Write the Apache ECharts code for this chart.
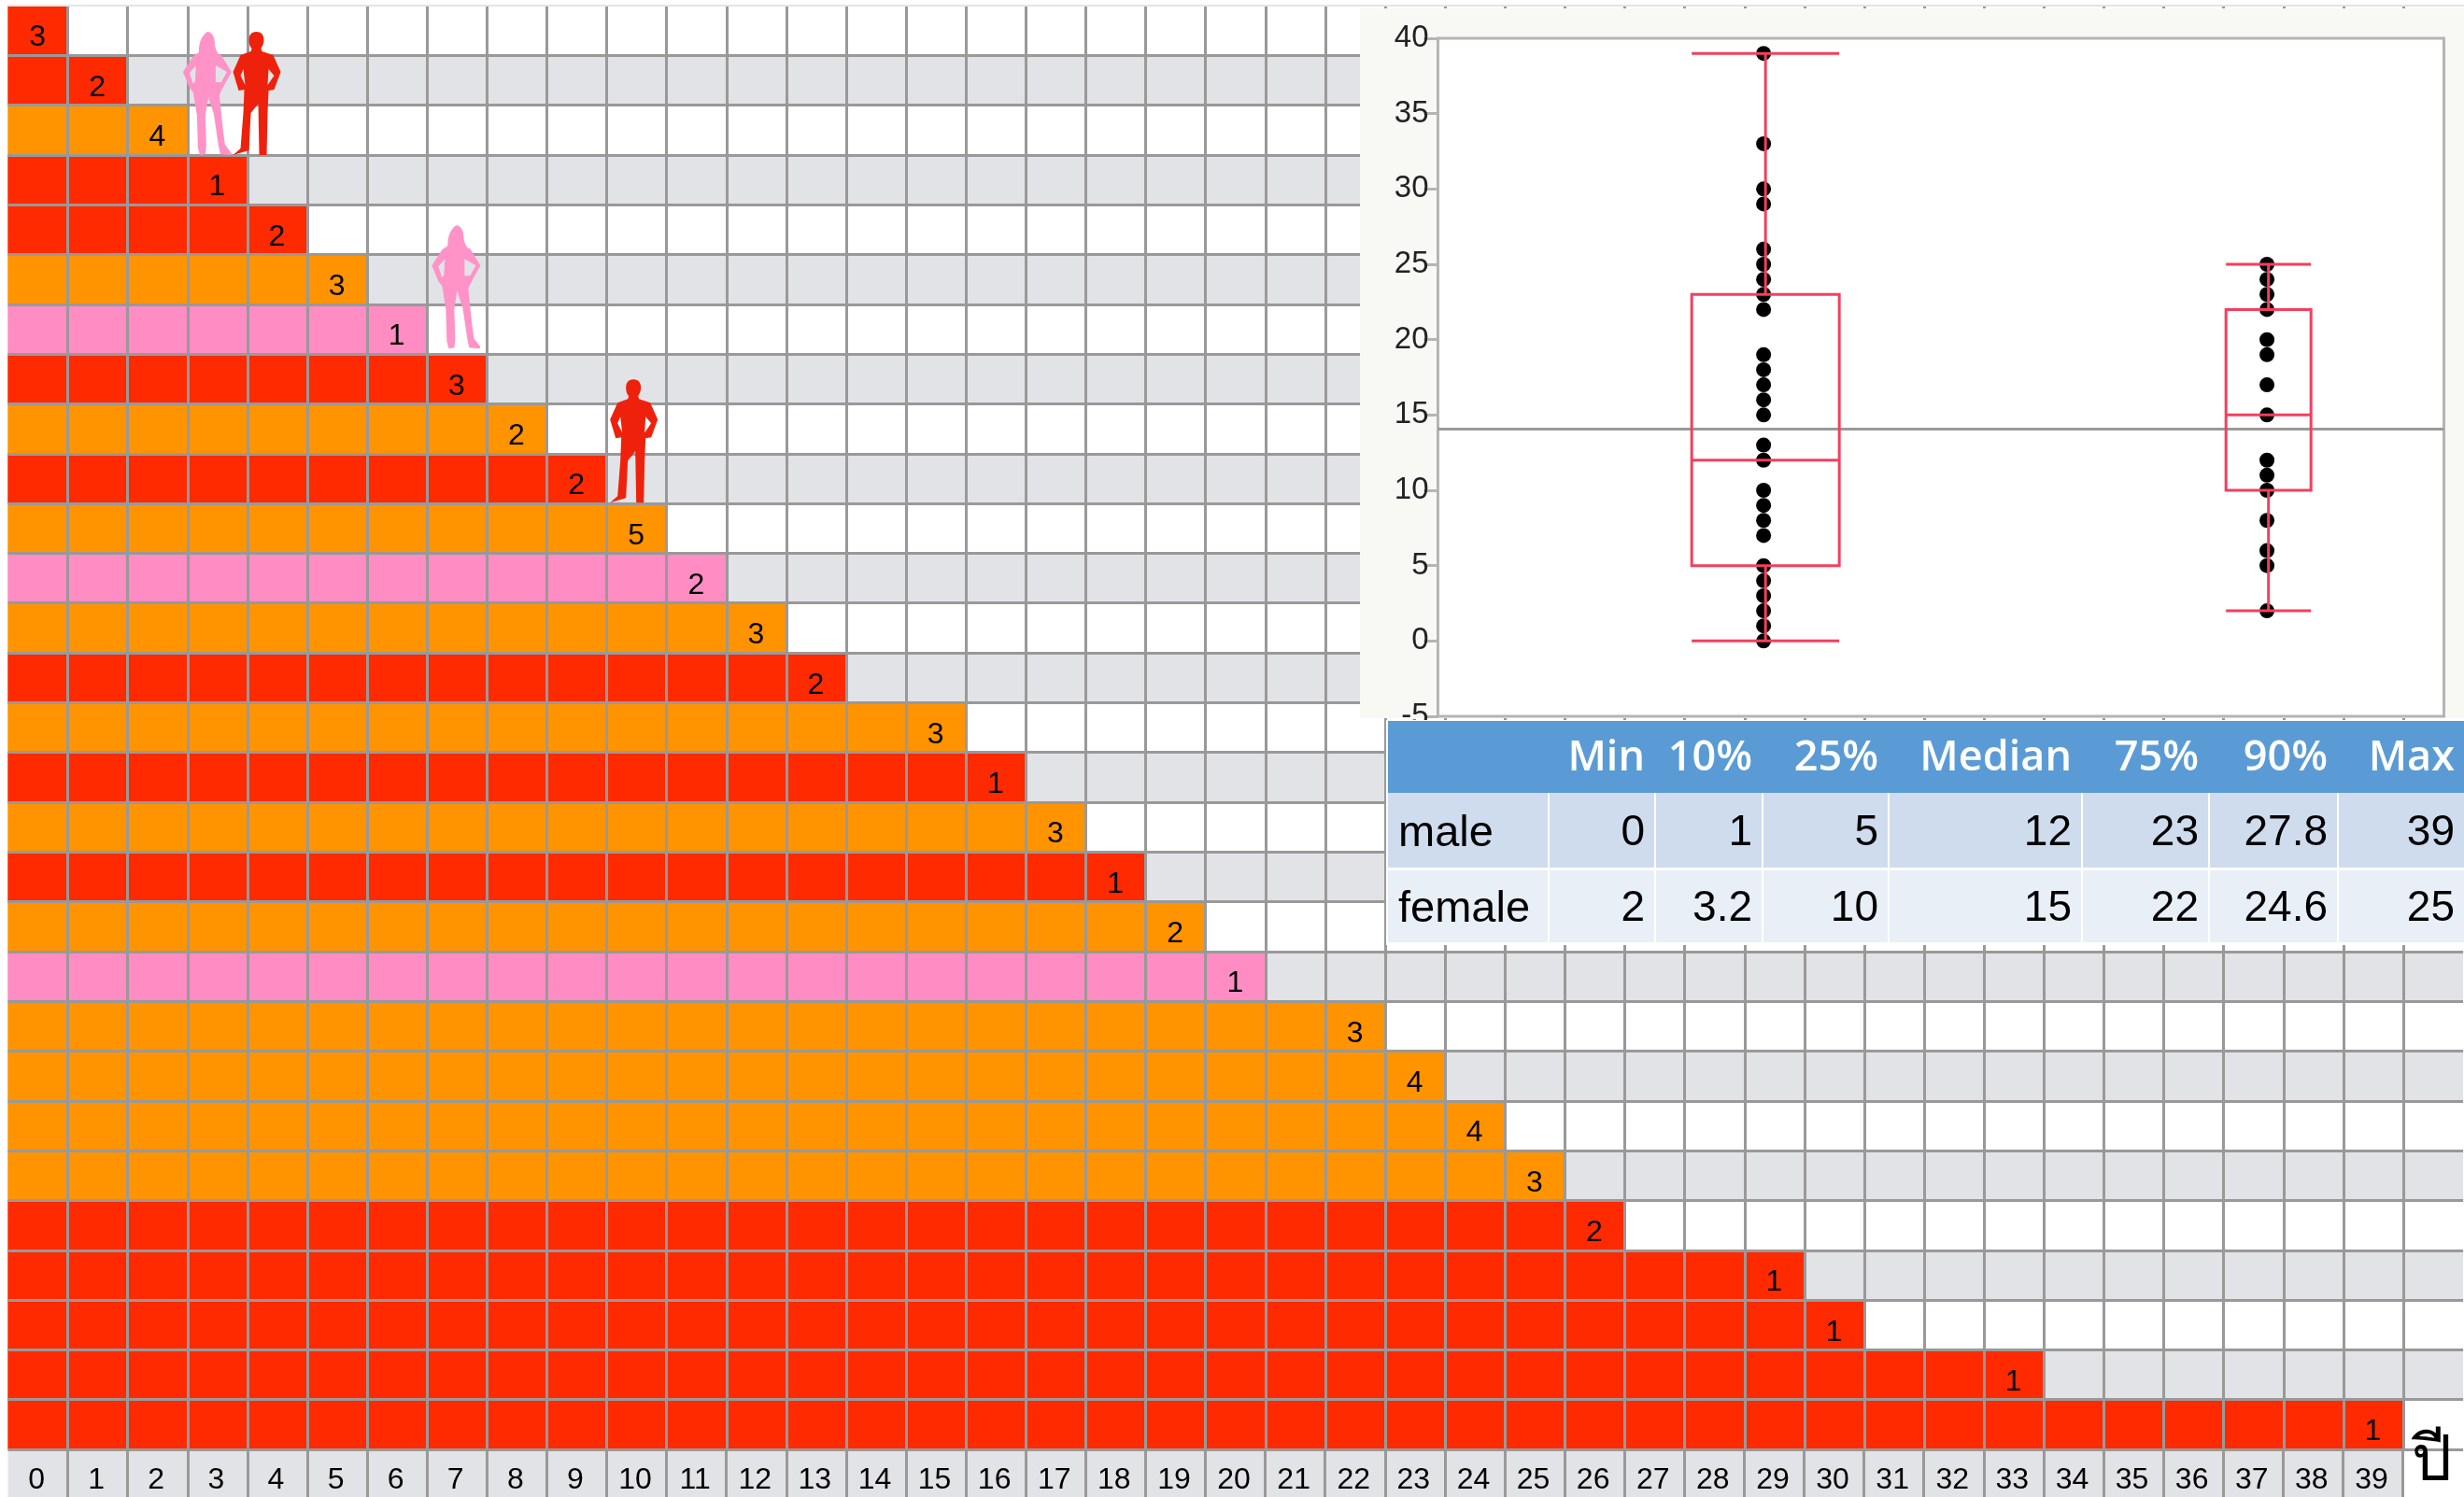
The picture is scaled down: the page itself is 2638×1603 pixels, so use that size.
<!DOCTYPE html>
<html>
<head>
<meta charset="utf-8">
<title>chart</title>
<script src="https://cdn.jsdelivr.net/npm/echarts@6/dist/echarts.min.js"></script>
<style>
    html, body { margin: 0; padding: 0; background: #fff; }
    #main { width: 2638px; height: 1603px; }
</style>
</head>
<body>
<div id="main"></div>
<script>
// ages across the bottom strip
var ages = [];
for (var a = 0; a < 40; a++) ages.push(String(a));
var gridColumns = ages.concat(['']);

// one row per distinct age, oldest at the bottom
var rowAges = [0, 1, 2, 3, 4, 5, 6, 7, 8, 9, 10, 11, 12, 13, 15, 16, 17, 18, 19, 20, 22, 23, 24, 25, 26, 29, 30, 33, 39];
var rowCounts = [3, 2, 4, 1, 2, 3, 1, 3, 2, 2, 5, 2, 3, 2, 3, 1, 3, 1, 2, 1, 3, 4, 4, 3, 2, 1, 1, 1, 1];
var rowGroups = ['m', 'm', 'b', 'm', 'm', 'b', 'f', 'm', 'b', 'm', 'b', 'f', 'b', 'm', 'b', 'm', 'b', 'm', 'b', 'f', 'b', 'b', 'b', 'b', 'm', 'm', 'm', 'm', 'm'];

// box plot dots
var maleAges = [39, 33, 30, 29, 26, 25, 24, 23, 22, 19, 18, 17, 16, 15, 13, 12, 10, 9, 8, 7, 5, 4, 3, 2, 1, 0];
var femaleAges = [25, 24, 23, 22, 20, 19, 17, 15, 12, 11, 10, 8, 6, 5, 2];
var meanAge = 14.06;

// summary table
var statNames = ['Min', '10%', '25%', 'Median', '75%', '90%', 'Max'];
var maleStats = [0, 1, 5, 12, 23, 27.8, 39];
var femaleStats = [2, 3.2, 10, 15, 22, 24.6, 25];

var RED = '#FF2A00', ORANGE = '#FF9400', PINK = '#FF8DC4';
var LINE = '#999999', ROW_GRAY = '#E2E3E7', AXIS_GRAY = '#B5B5B5', BOX_RED = '#F43F5E';
var FONT = '"Liberation Sans", Arial, sans-serif';

var WOMAN = 'path://M26 0C31 0 34 6 34 12C34 17 36 21 38 24L41 25L52 43L41 63L39 68L43 106L45 121L52 130L51 132L40 131L38 122L33 88L27 70L24 90L25 122L24 131L18 132L16 124L15 90L11 65L7 60L0 43L11 26L17 22C17 18 17 6 26 0Z' +
    'M35 36L35 54L41 54L47 43ZM14 36L7 44L11 56L13 53Z';
var MAN = 'path://M25 0C31 0 33 4 33 9C33 13 31 16 30 18L31 21L43 25L51 43L44 62L38 63L37 87L36 132L28 132L27 77L19 87L17 127L0 132L8 125L11 87L12 62L6 63L0 43L8 25L19 21L20 18C18 16 17 13 17 9C17 4 19 0 25 0Z' +
    'M38 40L37 57L44 47ZM11 40L8 47L13 57Z';

function cellsFor(group) {
    var cells = [];
    for (var r = 0; r < rowAges.length; r++) {
        if (rowGroups[r] !== group) continue;
        for (var c = 0; c <= rowAges[r]; c++) {
            cells.push([c, r, c === rowAges[r] ? rowCounts[r] : 0]);
        }
    }
    return cells;
}

function heatSeries(group, color) {
    return {
        type: 'heatmap',
        xAxisIndex: 0,
        yAxisIndex: 0,
        data: cellsFor(group),
        itemStyle: { color: color },
        label: {
            show: true,
            color: '#000',
            fontFamily: FONT,
            fontSize: 32,
            offset: [-0.5, 8],
            formatter: function(p) {
                return p.value[2] ? String(p.value[2]) : '';
            }
        },
        emphasis: { disabled: true }
    };
}

function person(symbol, color, col, row, size, offset) {
    return {
        type: 'scatter',
        xAxisIndex: 0,
        yAxisIndex: 0,
        z: 4,
        data: [[col, row]],
        symbol: symbol,
        symbolSize: size,
        symbolOffset: offset,
        itemStyle: { color: color, opacity: 1 },
        silent: true
    };
}

function dots(list, x) {
    return {
        type: 'scatter',
        xAxisIndex: 2,
        yAxisIndex: 3,
        z: 8,
        data: list.map(function(v) { return [x, v]; }),
        symbol: 'circle',
        symbolSize: 16,
        itemStyle: { color: '#000', opacity: 1 }
    };
}

function renderBox(params, api) {
    var c = api.value(0);
    var half = api.value(6) / 2;
    var left = api.coord([c - half, 0])[0];
    var right = api.coord([c + half, 0])[0];
    var mid = api.coord([c, 0])[0];
    var lo = api.coord([c, api.value(1)])[1];
    var q1 = api.coord([c, api.value(2)])[1];
    var med = api.coord([c, api.value(3)])[1];
    var q3 = api.coord([c, api.value(4)])[1];
    var hi = api.coord([c, api.value(5)])[1];
    var st = { stroke: BOX_RED, lineWidth: 3, fill: 'none' };
    function seg(x1, y1, x2, y2) {
        return { type: 'line', shape: { x1: x1, y1: y1, x2: x2, y2: y2 }, style: st };
    }
    return {
        type: 'group',
        children: [
            { type: 'rect', shape: { x: left, y: q3, width: right - left, height: q1 - q3 }, style: st },
            seg(left, med, right, med),
            seg(mid, q3, mid, hi),
            seg(mid, q1, mid, lo),
            seg(left, hi, right, hi),
            seg(left, lo, right, lo)
        ]
    };
}

// table graphics, built from the stat arrays
function tableGraphics() {
    var edges = [1486, 1659, 1773, 1888, 2023, 2230, 2366, 2504, 2640];
    var rows = [
        { name: 'male', stats: maleStats, fill: '#CFDCEE', top: 849, bottom: 929 },
        { name: 'female', stats: femaleStats, fill: '#E9EFF7', top: 932, bottom: 1009 }
    ];
    var els = [
        { type: 'rect', z: 5, shape: { x: 1456, y: 9, width: 1182, height: 760 }, style: { fill: '#F8F9F5' } },
        { type: 'rect', z: 9, shape: { x: 1484, y: 771, width: 1154, height: 241 }, style: { fill: '#fff' } },
        { type: 'rect', z: 10, shape: { x: 1486, y: 772, width: 1152, height: 77 }, style: { fill: '#5B9BD5' } }
    ];
    statNames.forEach(function(name, i) {
        els.push({
            type: 'text', z: 11,
            style: { text: name, x: edges[i + 2] - 12, y: 812, align: 'right', verticalAlign: 'middle', fill: '#fff', font: '600 45px "Open Sans", sans-serif' }
        });
    });
    rows.forEach(function(row) {
        for (var i = 0; i < edges.length - 1; i++) {
            var w = edges[i + 1] - edges[i] - (i < edges.length - 2 ? 2 : 0);
            els.push({ type: 'rect', z: 10, shape: { x: edges[i], y: row.top, width: w, height: row.bottom - row.top }, style: { fill: row.fill } });
        }
        var cy = (row.top + row.bottom) / 2;
        els.push({
            type: 'text', z: 11,
            style: { text: row.name, x: 1497, y: cy + 4, align: 'left', verticalAlign: 'middle', fill: '#000', font: '47px ' + FONT }
        });
        row.stats.forEach(function(v, i) {
            els.push({
                type: 'text', z: 11,
                style: { text: String(v), x: edges[i + 2] - 12, y: cy + 3, align: 'right', verticalAlign: 'middle', fill: '#000', font: '46px ' + FONT }
            });
        });
    });
    return els;
}

var chart = echarts.init(document.getElementById('main'));
var option = {
    animation: false,
    backgroundColor: '#fff',
    grid: [
        { left: 8.5, top: 6, width: 2628.6, height: 1546 },
        { left: 8.5, top: 1552, width: 2564, height: 53, show: true, backgroundColor: ROW_GRAY, borderWidth: 0 },
        { left: 1539.5, top: 41, width: 1077, height: 726, show: true, backgroundColor: '#fff', borderColor: AXIS_GRAY, borderWidth: 3, z: 6 }
    ],
    xAxis: [
        {
            type: 'category', gridIndex: 0, position: 'top', data: gridColumns, z: 3,
            axisLine: { show: true, lineStyle: { color: '#E4E4E4', width: 2 } },
            axisTick: { show: false },
            axisLabel: { show: false },
            splitLine: { show: true, interval: 0, showMinLine: false, showMaxLine: false, lineStyle: { color: LINE, width: 3 } }
        },
        {
            type: 'category', gridIndex: 1, data: ages, z: 3,
            axisLine: { show: false },
            axisTick: { show: false },
            axisLabel: { interval: 0, inside: true, margin: 2, padding: [0, 3, 0, 0], color: '#000', fontFamily: FONT, fontSize: 32 },
            splitLine: { show: true, interval: 0, showMinLine: false, lineStyle: { color: LINE, width: 3 } },
            name: 'ปี',
            nameLocation: 'end',
            nameGap: 9,
            nameMoveOverlap: false,
            nameTextStyle: { fontSize: 68, color: '#000', verticalAlign: 'bottom', align: 'left', padding: [0, 0, 3, 0] }
        },
        { type: 'value', gridIndex: 2, min: 0, max: 1, show: false }
    ],
    yAxis: [
        {
            type: 'category', gridIndex: 0, inverse: true, data: rowAges, z: 3,
            axisLine: { show: false }, axisTick: { show: false }, axisLabel: { show: false },
            splitLine: { show: true, interval: 0, showMinLine: false, lineStyle: { color: LINE, width: 3 } }
        },
        {
            type: 'category', gridIndex: 0, inverse: true, position: 'right', data: rowAges, z: 0,
            axisLine: { show: false }, axisTick: { show: false }, axisLabel: { show: false },
            splitArea: { show: true, interval: 0, areaStyle: { color: ['#FFFFFF', ROW_GRAY] } }
        },
        { type: 'category', gridIndex: 1, data: [''], show: false },
        {
            type: 'value', gridIndex: 2, min: -5, max: 40, interval: 5, z: 7,
            axisLine: { show: true, lineStyle: { color: AXIS_GRAY, width: 3 } },
            axisTick: { show: true, length: 15, lineStyle: { color: AXIS_GRAY, width: 3 } },
            axisLabel: { margin: 10, padding: [5, 0, 0, 0], color: '#222', fontFamily: FONT, fontSize: 33 },
            splitLine: { show: false }
        }
    ],
    series: [
        heatSeries('m', RED),
        heatSeries('b', ORANGE),
        heatSeries('f', PINK),
        person(WOMAN, '#FF93C8', 3, 1, [52, 132], [-11, 14]),
        person(MAN, '#EE220C', 4, 1, [51, 132], [-22, 14]),
        person(WOMAN, '#FF93C8', 7, 5, [52, 132], [-1, 8]),
        person(MAN, '#EE220C', 10, 8, [51, 132], [-3, 13]),
        {
            type: 'line', xAxisIndex: 2, yAxisIndex: 3, z: 7, silent: true,
            data: [[0, meanAge], [1, meanAge]],
            symbol: 'none',
            lineStyle: { color: '#999', width: 3 }
        },
        dots(maleAges, 0.3237),
        dots(femaleAges, 0.8241),
        {
            type: 'custom', xAxisIndex: 2, yAxisIndex: 3, z: 9, silent: true,
            renderItem: renderBox,
            encode: { x: 0, y: [1, 2, 3, 4, 5] },
            data: [
                [0.3256, maleStats[0], maleStats[2], maleStats[3], maleStats[4], maleStats[6], 0.1467],
                [0.8256, femaleStats[0], femaleStats[2], femaleStats[3], femaleStats[4], femaleStats[6], 0.0845]
            ]
        }
    ],
    graphic: { elements: tableGraphics() }
};
chart.setOption(option);
</script>
</body>
</html>
